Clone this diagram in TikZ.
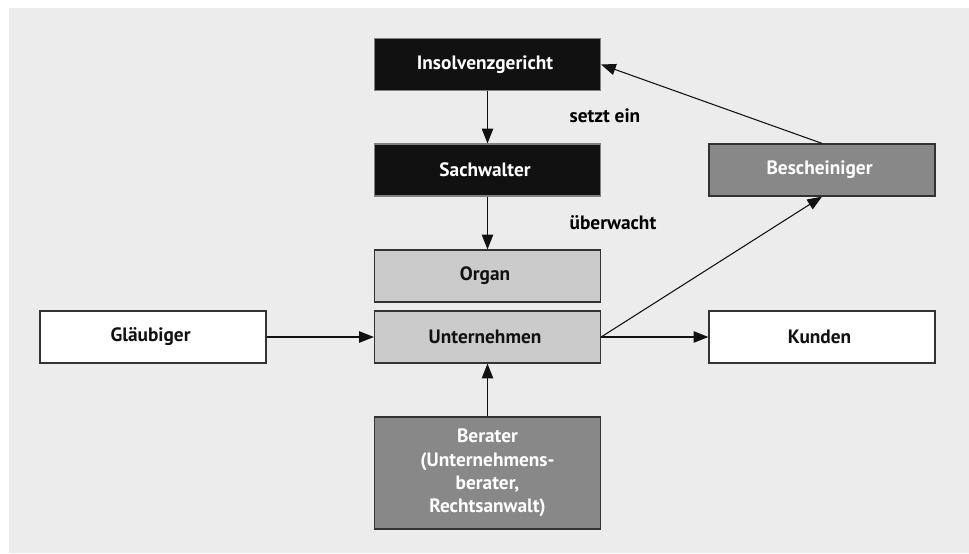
\documentclass[tikz,border=0pt]{standalone}
\usepackage{fontspec}
\setmainfont{PT Sans}
\usepackage{tikz}
\usetikzlibrary{arrows.meta}

\definecolor{bgGray}{HTML}{ECECEC}
\definecolor{boxBlack}{HTML}{111111}
\definecolor{boxLight}{HTML}{CBCBCB}
\definecolor{boxDark}{HTML}{888888}
\definecolor{boxLine}{HTML}{333333}

\begin{document}
\begin{tikzpicture}[x=0.75pt, y=-0.75pt,
  font=\bfseries\fontsize{14.5}{17.5}\selectfont,
  box/.style={draw=boxLine, line width=0.9pt, minimum width=169.5pt, minimum height=39pt, inner sep=0pt, align=center},
  blackbox/.style={box, fill=boxBlack, draw=gray, text=white},
  lightbox/.style={box, fill=boxLight, text=boxBlack},
  darkbox/.style={box, fill=boxDark, text=white},
  whitebox/.style={box, fill=white, text=boxBlack},
  link/.style={line width=0.8pt, draw=boxBlack, -{Triangle[length=11pt, width=8.5pt]}}]

%% background and page size
\useasboundingbox (0, 0) rectangle (969, 553);
\fill [bgGray] (9, 8) rectangle (969, 553);

%% boxes

% court and administrator
\node (court) at (487.5, 64.5) [blackbox] { Insolvenzgericht };
\node (admin) at (487.5, 170) [blackbox] { Sachwalter };

% company
\node (organ) at (487.5, 276) [lightbox] { Organ };
\node (company) at (487.5, 337) [lightbox] { Unternehmen };

% others round the company
\node (creditors) at (153, 337) [whitebox] { Gläubiger };
\node (customers) at (822, 337) [whitebox] { Kunden };
\node (certifier) at (822, 170) [darkbox] { Bescheiniger };
\node (advisor) at (487.5, 473) [darkbox, minimum height=84pt] { Berater\\(Unternehmens-\\berater,\\Rechtsanwalt) };

%% arrows

% appoints / supervises
\draw [link] (court) -- (admin);
\node (appoints) at (565, 116) [anchor=west] { setzt ein };
\draw [link] (admin) -- (organ);
\node (supervises) at (565, 223) [anchor=west] { überwacht };

% flows through the company
\draw [link] (creditors) -- (company);
\draw [link] (company) -- (customers);
\draw [link] (advisor) -- (company);

% certificate
\draw [link] (company.east) -- (certifier.south);
\draw [link] (certifier.north) -- (court.east);

\end{tikzpicture}
\end{document}
